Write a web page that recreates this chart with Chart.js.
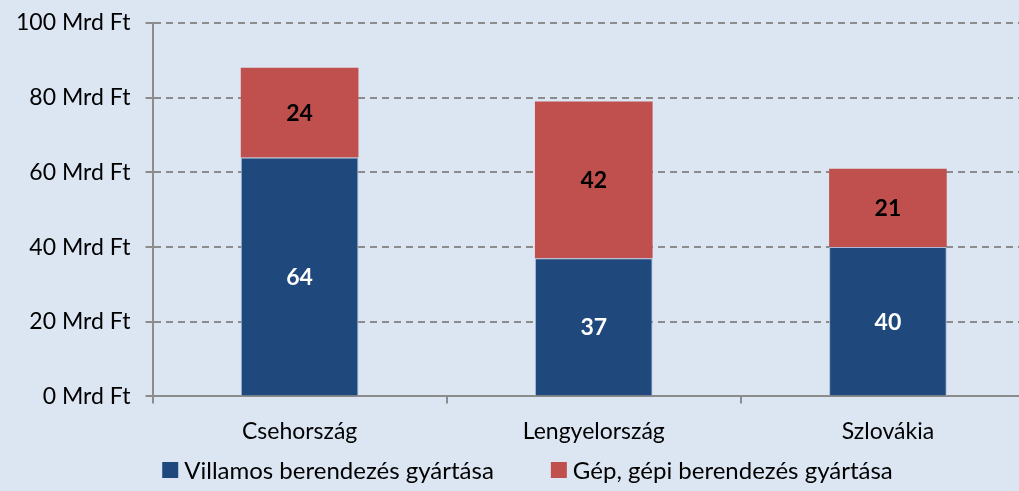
<!DOCTYPE html>
<html>
<head>
<meta charset="utf-8">
<script src="https://cdn.jsdelivr.net/npm/chart.js@4"></script>
<style>
  html, body { margin: 0; padding: 0; background: #dce6f2; overflow: hidden; }
  #wrap { width: 1019px; height: 491px; overflow: hidden; }
</style>
</head>
<body>
<div id="wrap"><canvas id="chart" width="1035" height="491"></canvas></div>
<script>
// Adatok
const countries = ['Csehország', 'Lengyelország', 'Szlovákia'];
const villamos = [64, 37, 40];
const gepi = [24, 42, 21];
const yTicks = [0, 20, 40, 60, 80, 100];

// Értékcímkék a szegmensek közepén
const valueLabels = {
    id: 'valueLabels',
    afterDatasetsDraw(chart) {
        const ctx = chart.ctx;
        ctx.save();
        ctx.font = 'bold 23px Lato';
        ctx.textAlign = 'center';
        ctx.textBaseline = 'middle';
        chart.data.datasets.forEach((ds, i) => {
            const meta = chart.getDatasetMeta(i);
            ctx.fillStyle = i === 0 ? '#ffffff' : '#000000';
            meta.data.forEach((bar, j) => {
                const y = (bar.y + bar.base) / 2;
                ctx.fillText(ds.data[j], bar.x, y + 1);
            });
        });
        ctx.restore();
    }
};

// Saját jelmagyarázat (nagyobb köz az elemek között)
const bottomLegend = {
    id: 'bottomLegend',
    afterDraw(chart) {
        const ctx = chart.ctx;
        const box = 16, textGap = 6, itemGap = 57;
        ctx.save();
        ctx.font = '24px Lato';
        ctx.textBaseline = 'middle';
        const items = chart.data.datasets.map(ds => ({
            label: ds.label,
            color: ds.backgroundColor,
            w: box + textGap + ctx.measureText(ds.label).width
        }));
        const total = items.reduce((s, it) => s + it.w, 0) + itemGap * (items.length - 1);
        let x = chart.width / 2 + 10 - total / 2;
        const y = chart.height - 21;
        items.forEach(it => {
            ctx.fillStyle = it.color;
            ctx.fillRect(x, y - box / 2, box, box);
            ctx.fillStyle = '#000';
            ctx.fillText(it.label, x + box + textGap, y + 1);
            x += it.w + itemGap;
        });
        ctx.restore();
    }
};

const ctx = document.getElementById('chart').getContext('2d');
const chart = new Chart(ctx, {
    type: 'bar',
    data: {
        labels: countries,
        datasets: [
            {
                label: 'Villamos berendezés gyártása',
                data: villamos,
                backgroundColor: '#1f497d',
                borderColor: '#a9bcd6',
                borderWidth: 1
            },
            {
                label: 'Gép, gépi berendezés gyártása',
                data: gepi,
                backgroundColor: '#c0504d',
                borderColor: '#c0504d',
                borderWidth: 0
            }
        ]
    },
    options: {
        responsive: false,
        animation: false,
        layout: { padding: { top: 0, right: 0, left: 1, bottom: 32 } },
        datasets: {
            bar: { categoryPercentage: 1, barPercentage: 0.4 }
        },
        scales: {
            x: {
                stacked: true,
                grid: {
                    display: true,
                    drawOnChartArea: false,
                    tickLength: 7,
                    lineWidth: 2,
                    color: '#8c8c8c',
                    offset: true
                },
                border: { color: '#8c8c8c', width: 2 },
                ticks: {
                    color: '#000',
                    font: { family: 'Lato', size: 23, lineHeight: 0.85 },
                    padding: 18
                }
            },
            y: {
                stacked: true,
                min: 0,
                max: 100,
                afterBuildTicks(axis) {
                    axis.ticks = yTicks.map(v => ({ value: v }));
                },
                grid: {
                    color: '#8c8c8c',
                    lineWidth: 2,
                    tickLength: 7,
                    tickBorderDash: []
                },
                border: { color: '#8c8c8c', width: 2, dash: [7, 5] },
                ticks: {
                    color: '#000',
                    font: { family: 'Lato', size: 23, lineHeight: 0.7 },
                    padding: 15,
                    callback: v => v + ' Mrd Ft'
                }
            }
        },
        plugins: {
            legend: { display: false },
            tooltip: { enabled: false }
        }
    },
    plugins: [valueLabels, bottomLegend]
});
</script>
</body>
</html>
